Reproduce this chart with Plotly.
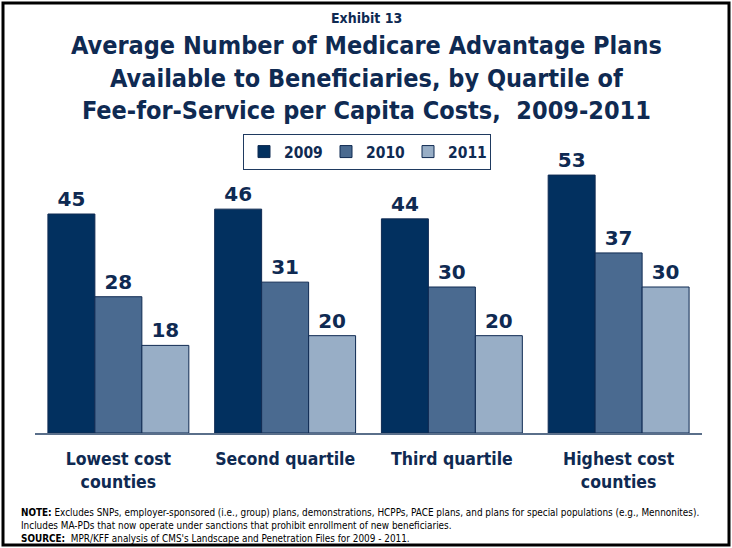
import plotly.graph_objects as go

categories = ["Lowest cost<br>counties", "Second quartile", "Third quartile", "Highest cost<br>counties"]
years = ["2009", "2010", "2011"]
plans_2009 = [45, 46, 44, 53]
plans_2010 = [28, 31, 30, 37]
plans_2011 = [18, 20, 20, 30]

colors = ["#02305f", "#4a6a90", "#98aec6"]
navy = "#0f2a52"
W, H = 732, 548
L, R, T, B = 35, 30, 141, 115
pw, ph = W - L - R, H - T - B

fig = go.Figure()
for name, vals, col in zip(years, [plans_2009, plans_2010, plans_2011], colors):
    fig.add_trace(go.Bar(
        x=categories, y=vals, name=name,
        marker=dict(color=col, line=dict(color=navy, width=1)),
        text=vals, textposition="outside", cliponaxis=False,
        textfont=dict(family="DejaVu Sans", size=20, color=navy),
        texttemplate="<b>%{text}</b>",
    ))

def px_x(v):
    return (v - L) / pw

def px_y(v):
    return (H - B - v) / ph

font_c = "DejaVu Sans Condensed"
annotations = [
    dict(text="<b>Exhibit 13</b>", x=px_x(W / 2), y=px_y(18), xref="paper", yref="paper",
         showarrow=False, font=dict(family=font_c, size=14, color=navy), xanchor="center", yanchor="middle"),
    dict(text="<b>Average Number of Medicare Advantage Plans<br>Available to Beneficiaries, by Quartile of<br>Fee-for-Service per Capita Costs,  2009-2011</b>",
         x=px_x(W / 2), y=px_y(78), xref="paper", yref="paper", showarrow=False,
         font=dict(family=font_c, size=25, color=navy), xanchor="center", yanchor="middle"),
    dict(text="<b>NOTE:</b> Excludes SNPs, employer-sponsored (i.e., group) plans, demonstrations, HCPPs, PACE plans, and plans for special populations (e.g., Mennonites).<br>"
              "Includes MA-PDs that now operate under sanctions that prohibit enrollment of new beneficiaries.<br>"
              "<b>SOURCE:</b>  MPR/KFF analysis of CMS's Landscape and Penetration Files for 2009 - 2011.",
         x=px_x(19), y=px_y(525), xref="paper", yref="paper", showarrow=False, align="left",
         font=dict(family=font_c, size=9.9, color="#000000"), xanchor="left", yanchor="middle"),
]

shapes = [
    dict(type="rect", xref="paper", yref="paper",
         x0=px_x(3), x1=px_x(729), y0=px_y(3), y1=px_y(545),
         line=dict(color="#000000", width=3), fillcolor="rgba(0,0,0,0)", layer="above"),
]

fig.update_layout(
    width=W, height=H,
    margin=dict(l=L, r=R, t=T, b=B),
    paper_bgcolor="white", plot_bgcolor="white",
    barmode="group", bargap=0.155, bargroupgap=0,
    showlegend=True,
    legend=dict(orientation="h", x=px_x(367), xanchor="center", y=px_y(152), yanchor="middle",
                bordercolor="#1f3a60", borderwidth=1, bgcolor="white",
                font=dict(family=font_c, size=15.5, color=navy, weight="bold"),
                itemwidth=30, tracegroupgap=0, entrywidth=37),
    xaxis=dict(showline=True, linecolor="#5a6f8a", linewidth=1.5, ticks="outside", ticklen=9,
               tickcolor="rgba(0,0,0,0)", showgrid=False,
               tickfont=dict(family=font_c, size=17.5, color=navy, weight="bold")),
    yaxis=dict(range=[0, 60], visible=False, showgrid=False),
    annotations=annotations, shapes=shapes,
)

fig.write_html("out.html")
